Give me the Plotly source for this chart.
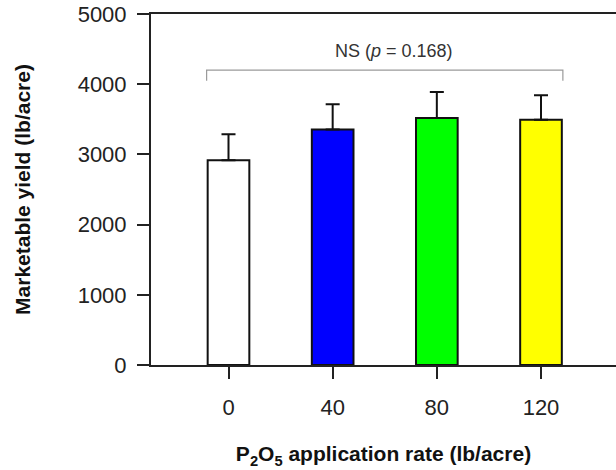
import plotly.graph_objects as go

# Data
rates = ["0", "40", "80", "120"]
yield_mean = [2916, 3353, 3518, 3495]
yield_se = [370, 360, 370, 346]
bar_colors = ["#FFFFFF", "#0000FF", "#00FF00", "#FFFF00"]
y_ticks = [0, 1000, 2000, 3000, 4000, 5000]
ns_label = "NS (<i>p</i> = 0.168)"
bracket_x = [-0.21, 3.21]
bracket_top = 4200
bracket_foot = 4050
ns_y = 4480

FONT = "Liberation Sans, Arial, sans-serif"
xpos = list(range(len(rates)))

fig = go.Figure()
fig.add_trace(go.Bar(
    x=xpos, y=yield_mean, width=0.4,
    marker=dict(color=bar_colors, line=dict(color="#111111", width=2)),
    error_y=dict(type="data", array=yield_se, arrayminus=[0] * len(rates),
                 symmetric=False, color="#111111", thickness=2, width=7),
    showlegend=False, hoverinfo="x+y",
))

# significance bracket
fig.add_trace(go.Scatter(
    x=[bracket_x[0], bracket_x[0], bracket_x[1], bracket_x[1]],
    y=[bracket_foot, bracket_top, bracket_top, bracket_foot],
    mode="lines", line=dict(color="#9a9a9a", width=1.2),
    showlegend=False, hoverinfo="skip",
))
fig.add_annotation(x=sum(bracket_x) / 2 + 0.09, y=ns_y, text=ns_label, showarrow=False,
                   font=dict(family=FONT, size=18, color="#333333"))

fig.update_layout(
    width=616, height=470,
    margin=dict(l=151, r=0, t=13.5, b=105),
    paper_bgcolor="white", plot_bgcolor="white",
    font=dict(family=FONT, color="#222222"),
    bargap=0.6,
)
fig.update_xaxes(
    range=[-0.744, 3.72], tickmode="array", tickvals=xpos, ticktext=rates,
    showline=True, linecolor="#222222", linewidth=2, mirror=True,
    ticks="outside", ticklen=12, tickwidth=2, tickcolor="#222222",
    tickfont=dict(size=22, color="#222222"), ticklabelstandoff=10,
    showgrid=False, zeroline=False, automargin=False,
    title=dict(text="<b>P<sub>2</sub>O<sub>5</sub> application rate (lb/acre)</b>",
               font=dict(size=21, color="#111111"), standoff=27),
)
fig.update_yaxes(
    range=[0, 5000], tickmode="array", tickvals=y_ticks,
    showline=True, linecolor="#222222", linewidth=2,
    ticks="outside", ticklen=12, tickwidth=2, tickcolor="#222222",
    tickfont=dict(size=22, color="#222222"), ticklabelstandoff=6,
    showgrid=False, zeroline=False, automargin=False,
    title=dict(text="<b>Marketable yield (lb/acre)</b>",
               font=dict(size=21, color="#111111"), standoff=41),
)

fig.write_html("out.html", config={"displayModeBar": False},
               post_script="document.body.style.margin='0';")
